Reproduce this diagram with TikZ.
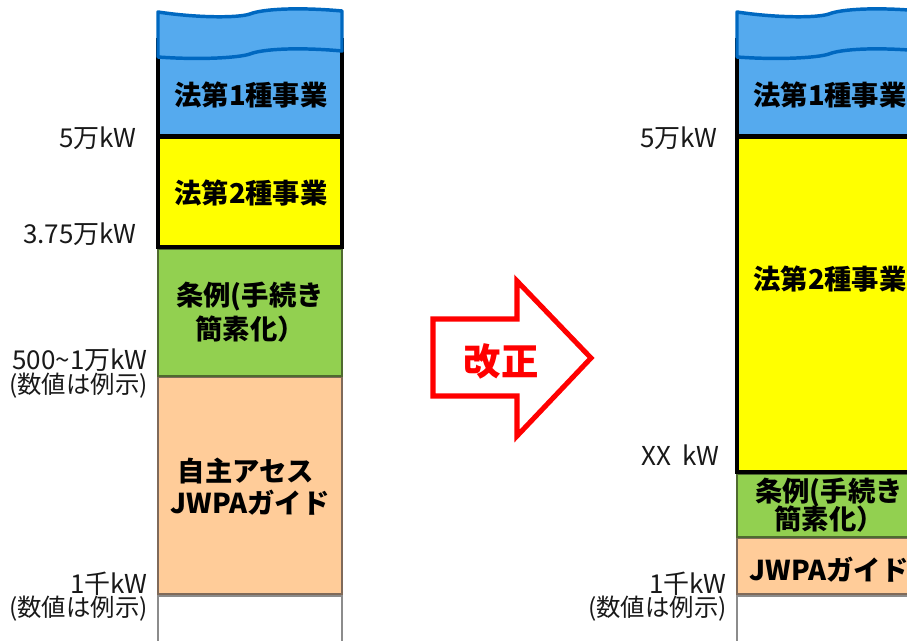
\documentclass[tikz,border=0pt]{standalone}
\usepackage{fontspec}
\newfontfamily\jp{Noto Sans CJK JP}
\definecolor{blueF}{HTML}{55AAEE}
\definecolor{blueL}{HTML}{0068C0}
\definecolor{yellowF}{HTML}{FFFF00}
\definecolor{greenF}{HTML}{92D050}
\definecolor{greenL}{HTML}{4F6A2F}
\definecolor{orangeF}{HTML}{FFCC99}
\definecolor{orangeL}{HTML}{7F6A5A}
\definecolor{whiteL}{HTML}{8C8C8C}
\definecolor{redA}{HTML}{FF0000}
\tikzset{
  boxtxt/.style={font=\jp\bfseries\fontsize{20.5}{22}\selectfont, align=center, inner sep=0pt},
  lbl/.style={font=\jp\fontsize{19.5}{19}\selectfont, anchor=east, inner sep=0pt, text=black!90},
  lblnote/.style={lbl, font=\jp\fontsize{18.3}{19}\selectfont},
  blackbox/.style={draw=black, line width=3pt},
  greenbox/.style={fill=greenF, draw=greenL, line width=2.2pt},
  orangebox/.style={fill=orangeF, draw=orangeL, line width=2.2pt},
  whitebox/.style={fill=white, draw=whiteL, line width=2.2pt},
  scroll/.style={fill=blueF, draw=blueL, line width=2.6pt, line join=round},
}
\begin{document}
\begin{tikzpicture}[x=0.75pt,y=-0.75pt]
\useasboundingbox (0,0) rectangle (907,641);
\clip (0,0) rectangle (907,641);
% ---------------- left column ----------------
\draw[whitebox] (158,596) rectangle (342,650);
\draw[orangebox] (158,377) rectangle (342,594);
\draw[greenbox] (158,249) rectangle (342,376);
\draw[blackbox, fill=yellowF] (158,137) rectangle (342,247);
\draw[blackbox, fill=blueF] (158,40) rectangle (342,136);
% ---------------- right column ----------------
\draw[whitebox] (737,596) rectangle (921,650);
\draw[orangebox] (737,538) rectangle (921,594);
\draw[greenbox] (737,474) rectangle (921,537);
\draw[blackbox, fill=yellowF] (737,137) rectangle (921,472);
\draw[blackbox, fill=blueF] (737,40) rectangle (921,136);
% ---------------- scroll tops ----------------
\foreach \xo in {158,737}{
  \draw[scroll] (\xo,12) .. controls (\xo+40,18) and (\xo+80,18) .. (\xo+92,14)
     .. controls (\xo+104,9) and (\xo+140,7) .. (\xo+184,11)
     -- (\xo+184,51)
     .. controls (\xo+140,47) and (\xo+104,49) .. (\xo+92,54)
     .. controls (\xo+80,58) and (\xo+40,60) .. (\xo,57) -- cycle;
}
% ---------------- box texts left ----------------
\node[boxtxt] (l1) at (251,95) {法第1種事業};
\node[boxtxt] (l2) at (251,193) {法第2種事業};
\node[boxtxt] (l3a) at (250,297) {条例(手続き};
\node[boxtxt] (l3b) at (250,329) {簡素化）};
\node[boxtxt] (l4a) at (246,471) {自主アセス};
\node[boxtxt] (l4b) at (250,503) {JWPAガイド};
% ---------------- box texts right ----------------
\node[boxtxt] (r1) at (830,95) {法第1種事業};
\node[boxtxt] (r2) at (830,279) {法第2種事業};
\node[boxtxt] (r3a) at (829,493) {条例(手続き};
\node[boxtxt] (r3b) at (829,519) {簡素化）};
\node[boxtxt] (r4) at (829,570) {JWPAガイド};
% ---------------- labels left ----------------
\node[lbl] (a1) at (137,138) {5万kW};
\node[lbl] (a2) at (137,234) {3.75万kW};
\node[lbl] (a3) at (148,360) {500{\char126}1万kW};
\node[lblnote] (a4) at (148,386) {(数値は例示)};
\node[lbl] (a5) at (148,584) {1千kW};
\node[lblnote] (a6) at (148,609) {(数値は例示)};
% ---------------- labels right ----------------
\node[lbl] (b1) at (718,138) {5万kW};
\node[lbl] (b2) at (720,455) {XX\ \ kW};
\node[lbl] (b5) at (727,584) {1千kW};
\node[lblnote] (b6) at (727,609) {(数値は例示)};
% ---------------- arrow ----------------
\draw[redA, line width=3.8pt, line join=miter, fill=white]
  (433,319) -- (517,319) -- (517,281) -- (591,358) -- (517,436) -- (517,396) -- (433,396) -- cycle;
\node[font=\jp\bfseries\fontsize{28}{30}\selectfont, text=redA, inner sep=0pt] (kaisei) at (501,361) {改正};
\end{tikzpicture}
\end{document}
